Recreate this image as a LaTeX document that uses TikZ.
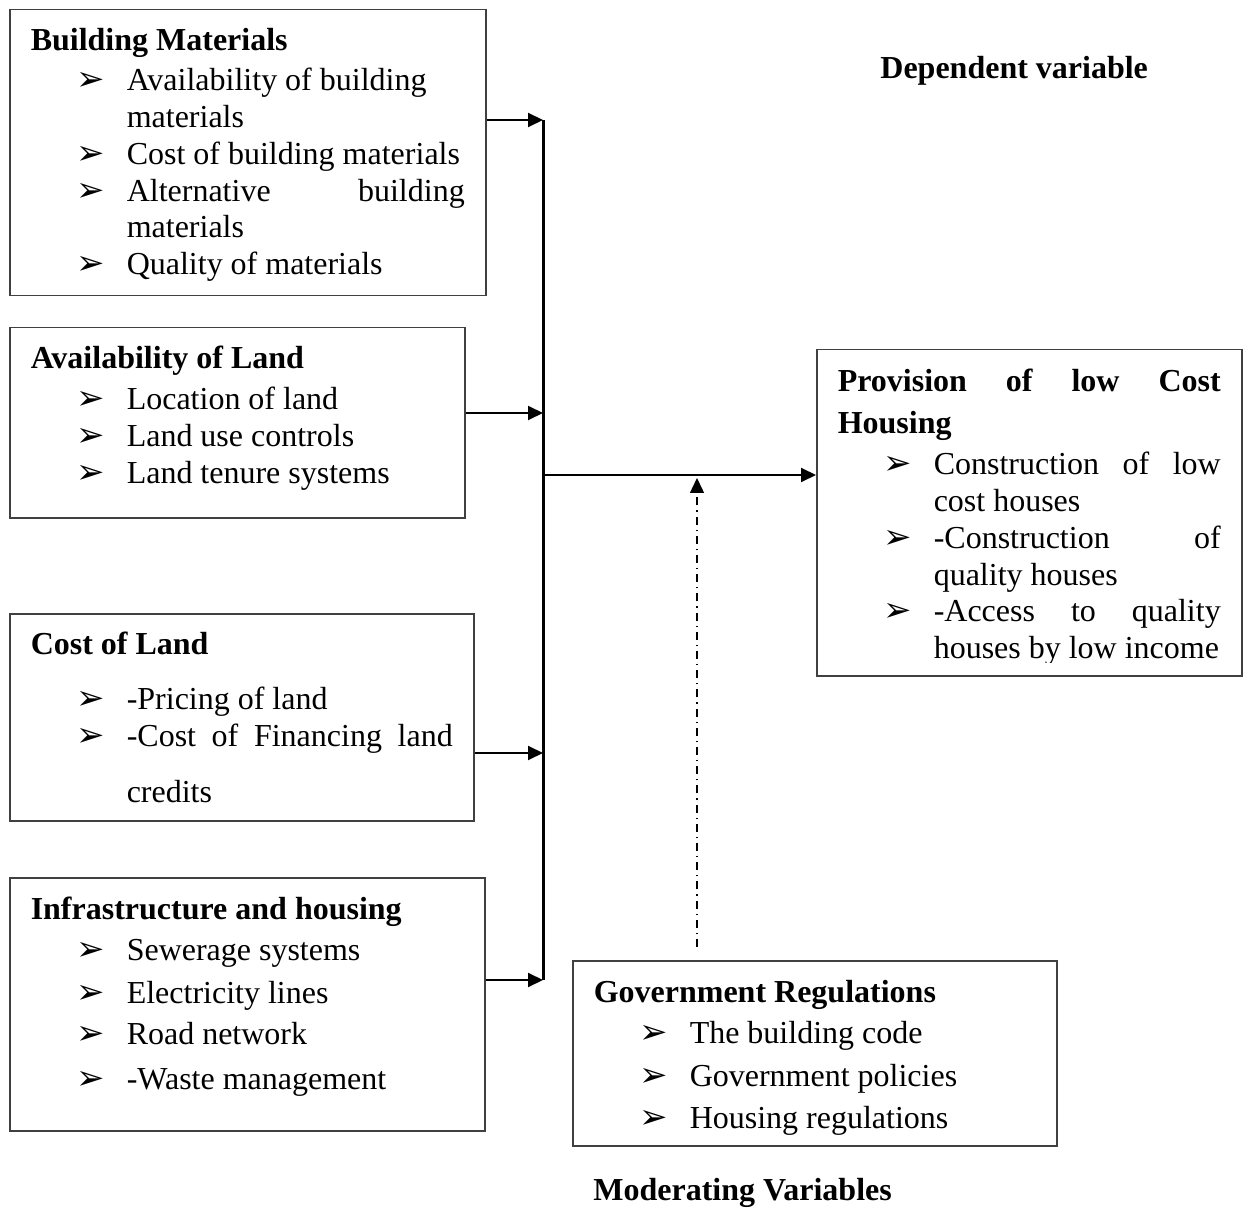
\documentclass[tikz,border=0pt]{standalone}
\usepackage{fontspec}
\setmainfont{Liberation Serif}
\newfontfamily\arrowfont{DejaVu Sans}
\usetikzlibrary{positioning}
\usetikzlibrary{arrows.meta}

\newcommand{\bul}{\hspace*{23pt}\makebox[25pt][l]{\arrowfont\fontsize{17}{17}\selectfont ➢}}
\newcommand{\cnt}{\hspace*{48pt}}
\newcommand{\spread}[2]{\makebox[#1][s]{#2}}
\newcommand{\boxtext}[4]{\parbox[c][#2][t]{#1}{\rule{0pt}{#3}#4}}

\begin{document}
\begin{tikzpicture}[x=0.5pt, y=-0.5pt, >={Triangle[length=7.5pt,width=7pt]},
  box/.style={draw=black!75, line width=0.75pt, inner xsep=10.5pt, inner ysep=0pt,
    anchor=north west, font=\fontsize{16}{18.4}\selectfont},
  feed/.style={->, line width=1pt},
  bus/.style={line width=1.5pt},
  moderate/.style={->, line width=0.7pt, dash pattern=on 4pt off 2.5pt on 0.6pt off 2.5pt},
  title/.style={anchor=base west, inner sep=0pt, font=\fontsize{16}{18.4}\selectfont\bfseries}]

\useasboundingbox (0,0) rectangle (1249,1209);

% independent variables
\node [box] (bm) at (9,9) {\boxtext{217pt}{143pt}{20.5pt}{\textbf{Building Materials}\\[1.6pt]
  \bul Availability of building\\
  \cnt materials\\
  \bul Cost of building materials\\
  \bul \spread{169pt}{Alternative building}\\
  \cnt materials\\
  \bul Quality of materials}};

\node [box] (al) at (9,327) {\boxtext{206.5pt}{95pt}{20.5pt}{\textbf{Availability of Land}\\[2.1pt]
  \bul Location of land\\
  \bul Land use controls\\
  \bul Land tenure systems}};

\node [box] (cl) at (9,613) {\boxtext{211pt}{103.5pt}{20.5pt}{\textbf{Cost of Land}\\[9.1pt]
  \bul -Pricing of land\\
  \bul \spread{163pt}{-Cost of Financing land}\\[9.6pt]
  \cnt credits}};

\node [box] (ih) at (9,877) {\boxtext{216.5pt}{126.5pt}{21pt}{\textbf{Infrastructure and housing}\\[2.1pt]
  \bul Sewerage systems\\[3.1pt]
  \bul Electricity lines\\[2.1pt]
  \bul Road network\\[4.1pt]
  \bul -Waste management}};

% dependent variable
\node [box] (ph) at (816,349) {\boxtext{191.5pt}{163pt}{21pt}{\spread{191.5pt}{\textbf{Provision of low Cost}}\\[2.6pt]
  \textbf{Housing}\\[2.1pt]
  \bul \spread{143.5pt}{Construction of low}\\
  \cnt cost houses\\
  \bul \spread{143.5pt}{-Construction of}\\
  \cnt quality houses\\
  \bul \spread{143.5pt}{-Access to quality}\\
  \cnt houses by low income}};
\fill [white] (819,663) rectangle (1238,673);

% moderating variable
\node [box] (gr) at (572,960) {\boxtext{221pt}{92.5pt}{21pt}{\textbf{Government Regulations}\\[2.1pt]
  \bul The building code\\[3.1pt]
  \bul Government policies\\[2.6pt]
  \bul Housing regulations}};

\node [title] (dep) at (880,79) {Dependent variable};
\node [title] (mod) at (593,1200) {Moderating Variables};

\coordinate (b1) at (543,120);
\coordinate (b2) at (543,413);
\coordinate (hub) at (543,475);
\coordinate (b3) at (543,753);
\coordinate (b4) at (543,980);
\coordinate (mtail) at (697,947);

\draw [bus] (b1) -- (b4);
\draw [feed] (bm.east |- b1) -- (b1);
\draw [feed] (al.east |- b2) -- (b2);
\draw [feed] (cl.east |- b3) -- (b3);
\draw [feed] (ih.east |- b4) -- (b4);
\draw [feed] (hub) -- (ph.west |- hub);
\draw [moderate] (mtail) -- ([yshift=-1.5pt]mtail |- hub);

\end{tikzpicture}
\end{document}
